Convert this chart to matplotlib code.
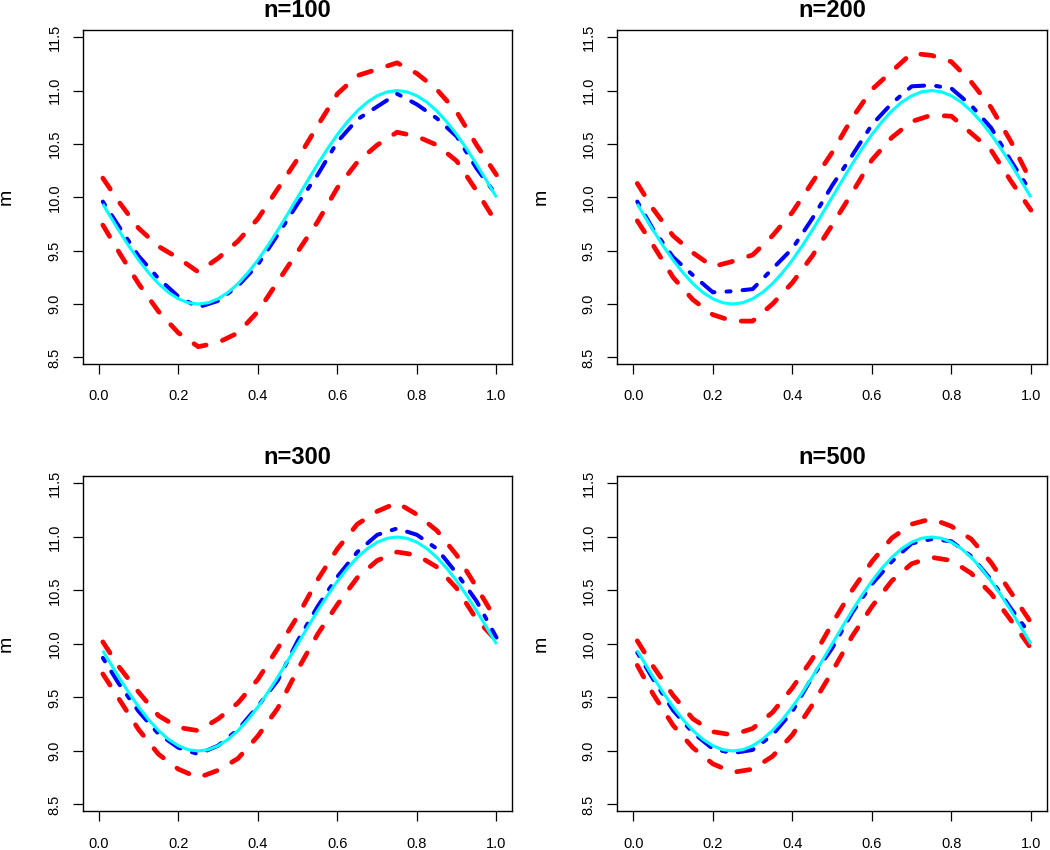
import numpy as np
import matplotlib.pyplot as plt

plt.rcParams['font.family'] = ['Liberation Sans', 'DejaVu Sans']

# grid of the estimates
x_est = [0.01, 0.05, 0.10, 0.15, 0.20, 0.25, 0.30, 0.35, 0.40, 0.45, 0.50,
         0.55, 0.60, 0.65, 0.70, 0.75, 0.80, 0.85, 0.90, 0.95, 1.00]

# true curve (cyan)
x_true = [0.01, 0.025, 0.05, 0.075, 0.1, 0.125, 0.15, 0.175, 0.2, 0.225, 0.25,
          0.275, 0.3, 0.325, 0.35, 0.375, 0.4, 0.425, 0.45, 0.475, 0.5,
          0.525, 0.55, 0.575, 0.6, 0.625, 0.65, 0.675, 0.7, 0.725, 0.75,
          0.775, 0.8, 0.825, 0.85, 0.875, 0.9, 0.925, 0.95, 0.975, 1.0]
m_true = [9.937, 9.844, 9.691, 9.546, 9.412, 9.293, 9.191, 9.109, 9.049, 9.012, 9.000,
          9.012, 9.049, 9.109, 9.191, 9.293, 9.412, 9.546, 9.691, 9.844, 10.000,
          10.156, 10.309, 10.454, 10.588, 10.707, 10.809, 10.891, 10.951, 10.988, 11.000,
          10.988, 10.951, 10.891, 10.809, 10.707, 10.588, 10.454, 10.309, 10.156, 10.000]

titles = ["n=100", "n=200", "n=300", "n=500"]

# mean estimate (blue dot-dash)
est_100 = [9.96, 9.73, 9.45, 9.24, 9.07, 8.97, 9.03, 9.17, 9.37, 9.65, 9.94,
           10.21, 10.52, 10.73, 10.85, 10.97, 10.87, 10.74, 10.57, 10.27, 10.02]
est_200 = [9.96, 9.70, 9.44, 9.27, 9.11, 9.12, 9.14, 9.33, 9.52, 9.80, 10.11,
           10.39, 10.68, 10.88, 11.04, 11.05, 11.02, 10.86, 10.65, 10.34, 10.05]
est_300 = [9.87, 9.63, 9.37, 9.16, 9.03, 8.97, 9.05, 9.20, 9.42, 9.66, 10.03,
           10.35, 10.63, 10.86, 11.02, 11.08, 11.02, 10.89, 10.66, 10.40, 10.06]
est_500 = [9.92, 9.67, 9.38, 9.17, 9.02, 8.98, 9.01, 9.15, 9.37, 9.69, 9.96,
           10.29, 10.56, 10.77, 10.94, 10.98, 10.96, 10.82, 10.60, 10.33, 10.08]

# upper band (red dashed)
up_100 = [10.18, 9.96, 9.71, 9.54, 9.43, 9.30, 9.43, 9.59, 9.80, 10.08, 10.36,
          10.67, 10.97, 11.14, 11.20, 11.26, 11.16, 11.01, 10.80, 10.49, 10.21]
up_200 = [10.13, 9.89, 9.64, 9.48, 9.35, 9.40, 9.46, 9.64, 9.86, 10.14, 10.42,
          10.74, 11.01, 11.18, 11.35, 11.33, 11.27, 11.08, 10.84, 10.52, 10.15]
up_300 = [10.02, 9.79, 9.55, 9.33, 9.22, 9.19, 9.30, 9.45, 9.67, 9.96, 10.26,
          10.60, 10.89, 11.12, 11.24, 11.32, 11.21, 11.06, 10.83, 10.53, 10.22]
up_500 = [10.03, 9.79, 9.52, 9.30, 9.18, 9.15, 9.21, 9.36, 9.59, 9.86, 10.19,
          10.50, 10.77, 10.99, 11.12, 11.17, 11.10, 10.98, 10.76, 10.48, 10.20]

# lower band (red dashed)
lo_100 = [9.74, 9.49, 9.19, 8.93, 8.73, 8.60, 8.64, 8.73, 8.93, 9.21, 9.49,
          9.77, 10.09, 10.33, 10.49, 10.61, 10.57, 10.49, 10.34, 10.06, 9.76]
lo_200 = [9.78, 9.55, 9.25, 9.04, 8.90, 8.84, 8.84, 9.00, 9.20, 9.45, 9.74,
          10.04, 10.35, 10.56, 10.71, 10.77, 10.76, 10.60, 10.44, 10.15, 9.88]
lo_300 = [9.72, 9.49, 9.20, 8.97, 8.83, 8.75, 8.82, 8.93, 9.14, 9.40, 9.76,
          10.09, 10.37, 10.62, 10.78, 10.86, 10.83, 10.72, 10.52, 10.23, 10.03]
lo_500 = [9.80, 9.53, 9.24, 9.03, 8.88, 8.80, 8.83, 8.95, 9.15, 9.43, 9.74,
          10.07, 10.35, 10.59, 10.75, 10.81, 10.78, 10.66, 10.47, 10.22, 9.96]

estimates = [est_100, est_200, est_300, est_500]
uppers = [up_100, up_200, up_300, up_500]
lowers = [lo_100, lo_200, lo_300, lo_500]

x_ticks = np.arange(0, 1.01, 0.2)
y_ticks = np.arange(8.5, 11.51, 0.5)

# axes boxes in figure fractions [left, bottom, width, height]
boxes = [[0.079, 0.572, 0.409, 0.393],
         [0.588, 0.572, 0.409, 0.393],
         [0.079, 0.046, 0.409, 0.394],
         [0.588, 0.046, 0.409, 0.394]]


def draw_panel(ax, title, est, up, lo):
    ax.plot(x_est, up, color='red', lw=3.4, dashes=(2.8, 3.6), dash_capstyle='round')
    ax.plot(x_est, lo, color='red', lw=3.4, dashes=(2.8, 3.6), dash_capstyle='round')
    ax.plot(x_est, est, color='blue', lw=2.9, dashes=(1, 3, 4, 3), dash_capstyle='round')
    ax.plot(x_true, m_true, color='cyan', lw=2.2, solid_capstyle='butt')

    ax.set_xlim(-0.04, 1.04)
    ax.set_ylim(8.44, 11.57)
    ax.set_xticks(x_ticks)
    ax.set_xticklabels([f"{v:.1f}" for v in x_ticks])
    ax.set_yticks(y_ticks)
    ax.set_yticklabels([f"{v:.1f}" for v in y_ticks], rotation=90, va='center')
    ax.tick_params(axis='both', direction='out', length=7.5, width=0.9,
                   labelsize=10.5, colors='black')
    ax.tick_params(axis='x', pad=11)
    ax.tick_params(axis='y', pad=8)
    for sp in ax.spines.values():
        sp.set_linewidth(1.0)
        sp.set_color('black')

    ax.set_title(title, fontsize=17, fontweight='bold', pad=9)
    ax.text(-0.178, 0.5, "m", transform=ax.transAxes, rotation=90,
            ha='center', va='center', fontsize=14)


fig = plt.figure(figsize=(10.5, 8.5), dpi=100)
for i in range(4):
    ax = fig.add_axes(boxes[i])
    draw_panel(ax, titles[i], estimates[i], uppers[i], lowers[i])

fig.savefig("out.png", dpi=100)
